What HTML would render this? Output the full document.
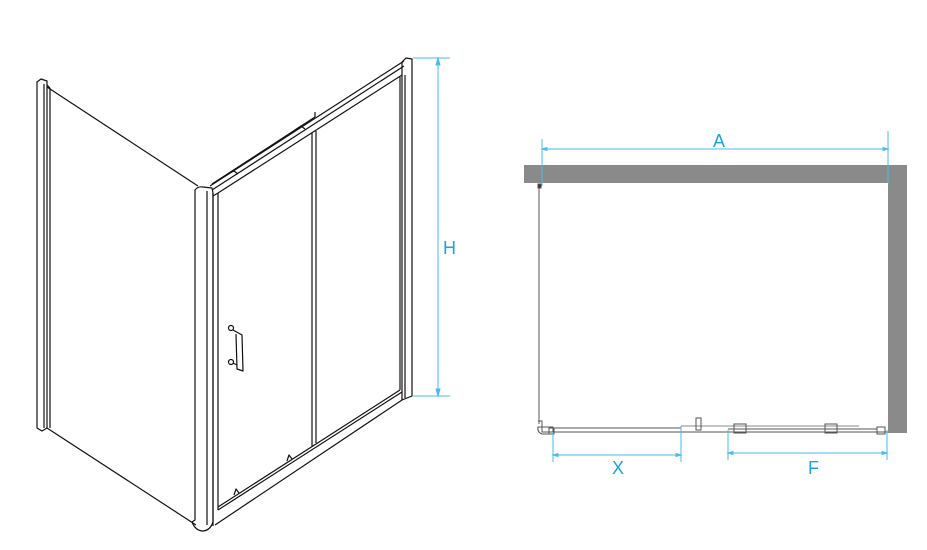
<!DOCTYPE html>
<html><head><meta charset="utf-8"><style>
html,body{margin:0;padding:0;background:#fff;width:927px;height:550px;overflow:hidden}
svg{display:block}
text{font-family:"Liberation Sans",sans-serif;fill:#1ba3e2}
</style></head><body>
<svg width="927" height="550" viewBox="0 0 927 550" xmlns="http://www.w3.org/2000/svg">
<g fill="none" stroke="#111" stroke-width="1.2" stroke-linejoin="round">
<path d="M37,82 L41,79 L47,81 L47,428 L42,431 L37,428 Z"/>
<line x1="44" y1="84" x2="44" y2="428"/>
<line x1="47" y1="85" x2="50" y2="88"/>
<line x1="47" y1="87" x2="198" y2="186"/>
<line x1="47" y1="428" x2="196" y2="525"/>
<line x1="50" y1="88" x2="50" y2="428"/>
<path d="M195,190 Q198,186 203,187 L212,188 L213,193 L213,522 Q210,531 202,531 Q195,530 192,522 L195,520 Z"/>
<line x1="207" y1="191" x2="207" y2="525"/>
<line x1="213" y1="193" x2="213" y2="526"/>
<line x1="218" y1="193" x2="218" y2="510"/>
<line x1="210" y1="186" x2="404" y2="61"/>
<line x1="212" y1="190" x2="404" y2="66"/>
<line x1="218" y1="193" x2="402" y2="75"/>
<line x1="213" y1="196" x2="218" y2="193"/>
<line x1="212" y1="184" x2="315" y2="117"/>
<line x1="315" y1="117" x2="315" y2="112"/>
<path d="M228,174 l6,-3 l4,3" />
<path d="M295,130 l6,-4 l4,3" />
<line x1="312" y1="133" x2="312" y2="447"/>
<line x1="316" y1="131" x2="316" y2="443"/>
<path d="M402,62 L406,58 L412,59 L412,396 L402,400 Z"/>
<line x1="405" y1="75" x2="405" y2="398"/>
<line x1="400" y1="77" x2="400" y2="390"/>
<line x1="218" y1="507" x2="400" y2="390"/>
<line x1="218" y1="510" x2="402" y2="392"/>
<line x1="215" y1="525" x2="402" y2="400"/>
<path d="M234,495 l2,-6 l3,4" />
<path d="M287,461 l2,-6 l3,4" />
<circle cx="231" cy="328" r="2.5"/>
<circle cx="231" cy="362" r="2.5"/>
<path d="M233,330 L242,335 L243,371 L237,369 L236,334"/>
<path d="M233,363 L237,365"/>
</g>
<g stroke="#4dbbec" stroke-width="1" fill="#4dbbec">
<line x1="413" y1="58" x2="450" y2="58"/>
<line x1="413" y1="396" x2="450" y2="396"/>
<line x1="438" y1="58" x2="438" y2="396"/>
<path d="M438,58 l-2,7 h4 Z M438,396 l-2,-7 h4 Z"/>
</g>
<text x="443" y="254" font-size="18">H</text>
<rect x="524" y="165" width="383" height="18" fill="#8a8a8a"/>
<rect x="888" y="183" width="19" height="250" fill="#8a8a8a"/>
<g stroke="#4dbbec" stroke-width="1" fill="#4dbbec">
<line x1="542" y1="139" x2="542" y2="186"/>
<line x1="888" y1="131" x2="888" y2="183"/>
<line x1="542" y1="149" x2="888" y2="149"/>
<path d="M542,149 l5,-1.5 v3 Z M888,149 l-5,-1.5 v3 Z"/>
</g>
<text x="713" y="147" font-size="18">A</text>
<g fill="none" stroke="#555" stroke-width="1">
<rect x="538" y="184" width="3" height="4" fill="#333"/>
<line x1="539" y1="188" x2="539" y2="424"/>
<path d="M538,421 L542,421 L542,432 L553,432 L553,427 L538,427 Q537,432 542,434 L553,434"/>
<rect x="549" y="428" width="5" height="6"/>
<line x1="553" y1="428" x2="681" y2="428"/>
<line x1="553" y1="432" x2="888" y2="432"/>
<line x1="681" y1="426" x2="859" y2="426" stroke="#888"/>
<line x1="728" y1="429" x2="877" y2="429"/>
<rect x="696" y="418" width="5" height="12"/>
<rect x="734" y="424" width="12" height="9"/>
<rect x="825" y="424" width="12" height="9"/>
<rect x="877" y="427" width="8" height="7"/>
</g>
<g stroke="#4dbbec" stroke-width="1" fill="#4dbbec">
<line x1="553" y1="432" x2="553" y2="462"/>
<line x1="681" y1="426" x2="681" y2="462"/>
<line x1="553" y1="455" x2="681" y2="455"/>
<path d="M553,455 l5,-1.5 v3 Z M681,455 l-5,-1.5 v3 Z"/>
<line x1="728" y1="430" x2="728" y2="460"/>
<line x1="887" y1="430" x2="887" y2="460"/>
<line x1="728" y1="453" x2="887" y2="453"/>
<path d="M728,453 l5,-1.5 v3 Z M887,453 l-5,-1.5 v3 Z"/>
</g>
<text x="612" y="474" font-size="18">X</text>
<text x="808" y="474" font-size="18">F</text>
</svg>
</body></html>
